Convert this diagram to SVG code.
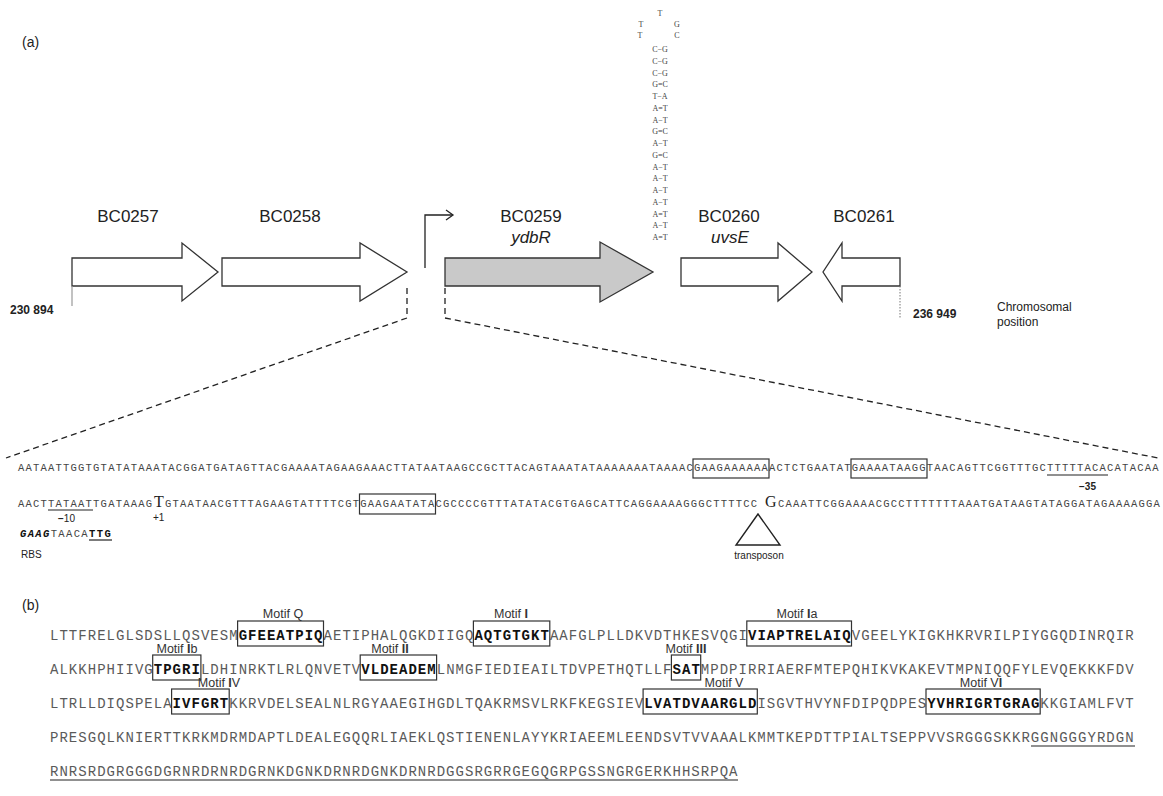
<svg xmlns="http://www.w3.org/2000/svg" width="1163" height="796" viewBox="0 0 1163 796">
<style>
.lab{font-family:"Liberation Sans",Arial,sans-serif;fill:#222}
.gene{font-size:17px;text-anchor:middle}
.it{font-style:italic}
.arr{fill:#fff;stroke:#333;stroke-width:1.3}
.arrg{fill:#c9c9c9;stroke:#333;stroke-width:1.3}
.dash{fill:none;stroke:#222;stroke-width:1.3;stroke-dasharray:6 4}
.dna{font-family:"Liberation Mono",monospace;font-size:10.5px;letter-spacing:1.21px;fill:#444}
.big{font-family:"Liberation Serif",serif;font-size:16px;fill:#222}
.box{fill:none;stroke:#333;stroke-width:1.2}
.ul{stroke:#222;stroke-width:1.2}
.prot{font-family:"Liberation Mono",monospace;font-size:14px;letter-spacing:1.03px;fill:#5a5a5a}
.b{font-weight:bold;fill:#111}
.motif{font-family:"Liberation Sans",Arial,sans-serif;font-size:12.5px;fill:#333;text-anchor:middle}
.hp{font-family:"Liberation Serif",serif;font-size:8px;fill:#444;text-anchor:middle}
.small{font-family:"Liberation Sans",Arial,sans-serif;font-size:12px;fill:#222}
</style>
<rect width="1163" height="796" fill="#fff"/>

<g id="label-a"><text class="lab" x="22" y="47" font-size="14">(a)</text></g>
<g id="label-b"><text class="lab" x="22" y="610" font-size="14">(b)</text></g>

<g id="gene-BC0257">
<path class="arr" d="M72,258 H182 V243 L218,272 L182,301 V286 H72 Z"/>
<text class="lab gene" x="128" y="222">BC0257</text>
</g>
<g id="gene-BC0258">
<path class="arr" d="M222,258 H360 V243 L407,272 L360,301 V286 H222 Z"/>
<text class="lab gene" x="290" y="222">BC0258</text>
</g>
<g id="gene-BC0259">
<path class="arrg" d="M445,258 H600 V242 L653,272 L600,302 V286 H445 Z"/>
<text class="lab gene" x="531" y="222">BC0259</text>
<text class="lab gene it" x="531" y="243">ydbR</text>
</g>
<g id="gene-BC0260">
<path class="arr" d="M681,258 H778 V243 L812,272 L778,301 V286 H681 Z"/>
<text class="lab gene" x="729" y="222">BC0260</text>
<text class="lab gene it" x="730" y="243">uvsE</text>
</g>
<g id="gene-BC0261">
<path class="arr" d="M900,258 H842 V243 L823,272 L842,301 V286 H900 Z"/>
<text class="lab gene" x="864" y="222">BC0261</text>
</g>

<g id="positions">
<line x1="72" y1="286" x2="72" y2="306" stroke="#999" stroke-width="1.2"/>
<line x1="900" y1="286" x2="900" y2="318" stroke="#777" stroke-width="1" stroke-dasharray="1.5 1.5"/>
<text class="small" x="10" y="314" font-weight="bold">230 894</text>
<text class="small" x="913" y="318" font-weight="bold">236 949</text>
<text class="small" x="997" y="311" font-size="13">Chromosomal</text>
<text class="small" x="997" y="326" font-size="13">position</text>
</g>

<g id="hairpin">
<text class="hp" x="660" y="16">T</text>
<text class="hp" x="641" y="27">T</text><text class="hp" x="677" y="27">G</text>
<text class="hp" x="640" y="38">T</text><text class="hp" x="677" y="38">C</text>
<text class="hp" x="660" y="52">C−G</text>
<text class="hp" x="660" y="63.75">C−G</text>
<text class="hp" x="660" y="75.5">C−G</text>
<text class="hp" x="660" y="87.25">G=C</text>
<text class="hp" x="660" y="99">T−A</text>
<text class="hp" x="660" y="110.75">A=T</text>
<text class="hp" x="660" y="122.5">A−T</text>
<text class="hp" x="660" y="134.25">G=C</text>
<text class="hp" x="660" y="146">A−T</text>
<text class="hp" x="660" y="157.75">G=C</text>
<text class="hp" x="660" y="169.5">A−T</text>
<text class="hp" x="660" y="181.25">A−T</text>
<text class="hp" x="660" y="193">A−T</text>
<text class="hp" x="660" y="204.75">A−T</text>
<text class="hp" x="660" y="216.5">A=T</text>
<text class="hp" x="660" y="228.25">A−T</text>
<text class="hp" x="660" y="240">A=T</text>
</g>

<g id="connectors">
<path d="M425,268 V215 H452" fill="none" stroke="#222" stroke-width="1.3"/>
<path d="M446,210 L453,215 L446,220" fill="none" stroke="#222" stroke-width="1.3"/>
<path class="dash" d="M407,288 V318 L6,458"/>
<path class="dash" d="M445,288 V318 L1158,458"/>
</g>

<g id="dna-sequence">
<text class="dna" x="18" y="471">AATAATTGGTGTATATAAATACGGATGATAGTTACGAAAATAGAAGAAACTTATAATAAGCCGCTTACAGTAAATATAAAAAAATAAAACGAAGAAAAAAACTCTGAATATGAAAATAAGGTAACAGTTCGGTTTGCTTTTTACACATACAA</text>
<rect class="box" x="693" y="459" width="76" height="19"/>
<rect class="box" x="851" y="459" width="76" height="19"/>
<line class="ul" x1="1047" y1="475" x2="1108" y2="475"/>
<text class="lab" x="1079" y="490" font-size="10" font-weight="bold">−35</text>

<text class="dna" y="507"><tspan x="18">AACTTATAATTGATAAAG</tspan><tspan x="154" class="big">T</tspan><tspan x="165">GTAATAACGTTTAGAAGTATTTTCGTGAAGAATATACGCCCCGTTTATATACGTGAGCATTCAGGAAAAGGGCTTTTCC</tspan><tspan x="765" class="big">G</tspan><tspan x="778">CAAATTCGGAAAACGCCTTTTTTTAAATGATAAGTATAGGATAGAAAAGGA</tspan></text>
<rect class="box" x="359.5" y="494" width="76" height="20"/>
<line class="ul" x1="48" y1="510" x2="93" y2="510"/>
<text class="lab" x="58" y="522" font-size="10"><tspan font-weight="bold">−</tspan>10</text>
<text class="lab" x="153" y="521" font-size="10">+1</text>
<text class="dna" x="20" y="537" style="letter-spacing:1.37px"><tspan font-weight="bold" font-style="italic" fill="#111">GAAG</tspan>TAACA<tspan font-weight="bold" fill="#111">TTG</tspan></text>
<line class="ul" x1="89" y1="540" x2="112" y2="540"/>
<text class="lab" x="21" y="558" font-size="10">RBS</text>
<path d="M758,514 L736,545 L780,545 Z" fill="#fff" stroke="#222" stroke-width="1.4"/>
<text class="lab" x="759" y="559" font-size="10" text-anchor="middle">transposon</text>
</g>

<g id="protein-sequence">
<text class="prot" x="50" y="640">LTTFRELGLSDSLLQSVESM<tspan class="b">GFEEATPIQ</tspan>AETIPHALQGKDIIGQ<tspan class="b">AQTGTGKT</tspan>AAFGLPLLDKVDTHKESVQGI<tspan class="b">VIAPTRELAIQ</tspan>VGEELYKIGKHKRVRILPIYGGQDINRQIR</text>
<text class="prot" x="50" y="674">ALKKHPHIIVG<tspan class="b">TPGRI</tspan>LDHINRKTLRLQNVETV<tspan class="b">VLDEADEM</tspan>LNMGFIEDIEAILTDVPETHQTLLF<tspan class="b">SAT</tspan>MPDPIRRIAERFMTEPQHIKVKAKEVTMPNIQQFYLEVQEKKKFDV</text>
<text class="prot" x="50" y="708">LTRLLDIQSPELA<tspan class="b">IVFGRT</tspan>KKRVDELSEALNLRGYAAEGIHGDLTQAKRMSVLRKFKEGSIEV<tspan class="b">LVATDVAARGLD</tspan>ISGVTHVYNFDIPQDPES<tspan class="b">YVHRIGRTGRAG</tspan>KKGIAMLFVT</text>
<text class="prot" x="50" y="742">PRESGQLKNIERTTKRKMDRMDAPTLDEALEGQQRLIAEKLQSTIENENLAYYKRIAEEMLEENDSVTVVAAALKMMTKEPDTTPIALTSEPPVVSRGGGSKKRGGNGGGYRDGN</text>
<text class="prot" x="50" y="776">RNRSRDGRGGGDGRNRDRNRDGRNKDGNKDRNRDGNKDRNRDGGSRGRRGEGQGRPGSSNGRGERKHHSRPQA</text>
<line class="ul" x1="1031" y1="746" x2="1135" y2="746"/>
<line class="ul" x1="50" y1="780" x2="738" y2="780"/>
</g>

<g id="motifs">
<rect class="box" x="237.6" y="621" width="85.9" height="25"/>
<text class="motif" x="283" y="618">Motif Q</text>
<rect class="box" x="473.4" y="621" width="76.4" height="25"/>
<text class="motif" x="511" y="618">Motif <tspan font-weight="bold">I</tspan></text>
<rect class="box" x="746.8" y="621" width="104.7" height="25"/>
<text class="motif" x="797" y="618">Motif <tspan font-weight="bold">I</tspan>a</text>

<rect class="box" x="152.7" y="655" width="48.2" height="25"/>
<text class="motif" x="177" y="653">Motif <tspan font-weight="bold">I</tspan>b</text>
<rect class="box" x="360.2" y="655" width="76.4" height="25"/>
<text class="motif" x="390" y="653">Motif <tspan font-weight="bold">II</tspan></text>
<rect class="box" x="671.4" y="655" width="29.3" height="25"/>
<text class="motif" x="686" y="653">Motif <tspan font-weight="bold">III</tspan></text>

<rect class="box" x="171.6" y="689" width="57.6" height="25"/>
<text class="motif" x="219" y="687">Motif <tspan font-weight="bold">I</tspan>V</text>
<rect class="box" x="643.1" y="689" width="114.2" height="25"/>
<text class="motif" x="724" y="687">Motif V</text>
<rect class="box" x="926" y="689" width="114.2" height="25"/>
<text class="motif" x="981" y="687">Motif V<tspan font-weight="bold">I</tspan></text>
</g>
</svg>
